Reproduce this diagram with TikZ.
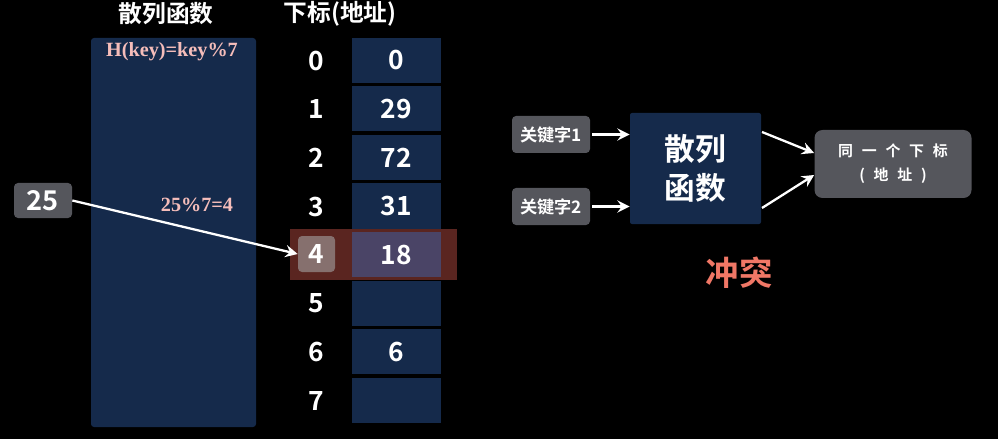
\documentclass[tikz,border=0pt]{standalone}
\usepackage{fontspec}
\setmainfont{Liberation Serif}
\newfontfamily\cjk{Noto Sans CJK SC}[BoldFont={* Bold}]
\usetikzlibrary{arrows.meta}
\definecolor{navy}{HTML}{152A4B}
\definecolor{grayb}{HTML}{55565C}
\definecolor{hired}{HTML}{5A2520}
\definecolor{hicell}{HTML}{4A4466}
\definecolor{hiidx}{HTML}{86706E}
\definecolor{pinktxt}{HTML}{F5BDBA}
\definecolor{salmon}{HTML}{F07766}
\newcommand{\gp}{\hspace{5pt}}
\tikzset{
  cell/.style={fill=navy, minimum width=89*0.02cm, minimum height=45*0.02cm, inner sep=0pt,
    text=white, font=\cjk\bfseries\fontsize{15}{15}\selectfont},
  idx/.style={text=white, inner sep=0pt, font=\cjk\bfseries\fontsize{15}{15}\selectfont},
  head/.style={text=white, inner sep=0pt, font=\cjk\bfseries\fontsize{13.5}{13.5}\selectfont},
  keybox/.style={fill=grayb, rounded corners=4*0.02cm, inner sep=0pt, text=white,
    minimum width=78*0.02cm, minimum height=37*0.02cm, font=\cjk\bfseries\fontsize{9.8}{9.8}\selectfont},
  arr/.style={draw=white, line width=1.3pt, -{Stealth[length=7pt,width=7pt,inset=2.5pt]}},
  formula/.style={text=pinktxt, inner sep=0pt, font=\bfseries\fontsize{11.5}{11.5}\selectfont}
}
\begin{document}
\begin{tikzpicture}[x=0.02cm,y=-0.02cm]
\fill[black] (0,0) rectangle (998,439);
\useasboundingbox (0,0) rectangle (998,439);
% headers
\node[head] (h1) at (166,14) {散列函数};
\node[head] (h2) at (340,14) {下标(地址)};
% hash function box
\node[fill=navy, rounded corners=3*0.02cm, minimum width=165*0.02cm, minimum height=389*0.02cm, inner sep=0pt] (hf) at (173.5,232.5) {};
\node[formula] (f1) at (172,52) {H(key)=key\%7};
\node[formula] (f2) at (197,205) {25\%7=4};
% highlight
\node[fill=hired, minimum width=167*0.02cm, minimum height=51*0.02cm, inner sep=0pt] (hl) at (373.5,254.5) {};
% cells
\foreach \i/\v in {0/0,1/29,2/72,3/31,5/,6/6,7/}{
  \node[cell] (c\i) at (396,60.5+48.5*\i) {\v};
  \node[idx] (i\i) at (316,61+48.5*\i) {\i};
}
\node[cell, fill=hicell, minimum height=45*0.02cm] (c4) at (396,254.5) {18};
\node[fill=hiidx, rounded corners=4*0.02cm, minimum width=37*0.02cm, minimum height=36*0.02cm, inner sep=0pt] (i4box) at (316.5,254) {};
\node[idx] (i4) at (316,254) {4};
% 25
\node[fill=grayb, rounded corners=4*0.02cm, minimum width=58*0.02cm, minimum height=35*0.02cm, inner sep=0pt,
  text=white, font=\cjk\bfseries\fontsize{15.5}{15.5}\selectfont] (k25) at (43,200.5) {25};
\draw[arr] (k25.east) -- (i4box.west);
% right side
\node[keybox] (k1) at (551,134.5) {关键字1};
\node[keybox] (k2) at (551,206.5) {关键字2};
\node[fill=navy, rounded corners=2*0.02cm, minimum width=131*0.02cm, minimum height=111*0.02cm, inner sep=0pt,
  text=white, align=center, font=\cjk\bfseries\fontsize{17.5}{22}\selectfont] (hash) at (695.5,168.5) {散列\\函数};
\node[fill=grayb, rounded corners=8*0.02cm, minimum width=157*0.02cm, minimum height=68*0.02cm, inner sep=0pt,
  text=white, align=center, font=\cjk\bfseries\fontsize{8.5}{13.5}\selectfont] (res) at (893,164) {同\gp 一\gp 个\gp 下\gp 标\\(\gp 地\gp 址\gp )};
\draw[arr] (k1.east) ++(2*0.02cm,0) -- (hash.west |- k1.east);
\draw[arr] (k2.east) ++(2*0.02cm,0) -- (hash.west |- k2.east);
\coordinate (hA) at (762,132);
\coordinate (hB) at (762,208);
\draw[arr] (hA) -- (res.west |- 0,153);
\draw[arr] (hB) -- (res.west |- 0,175);
\node[text=salmon, inner sep=0pt, font=\cjk\bfseries\fontsize{19}{19}\selectfont] (ct) at (739,273) {冲突};
\end{tikzpicture}
\end{document}
